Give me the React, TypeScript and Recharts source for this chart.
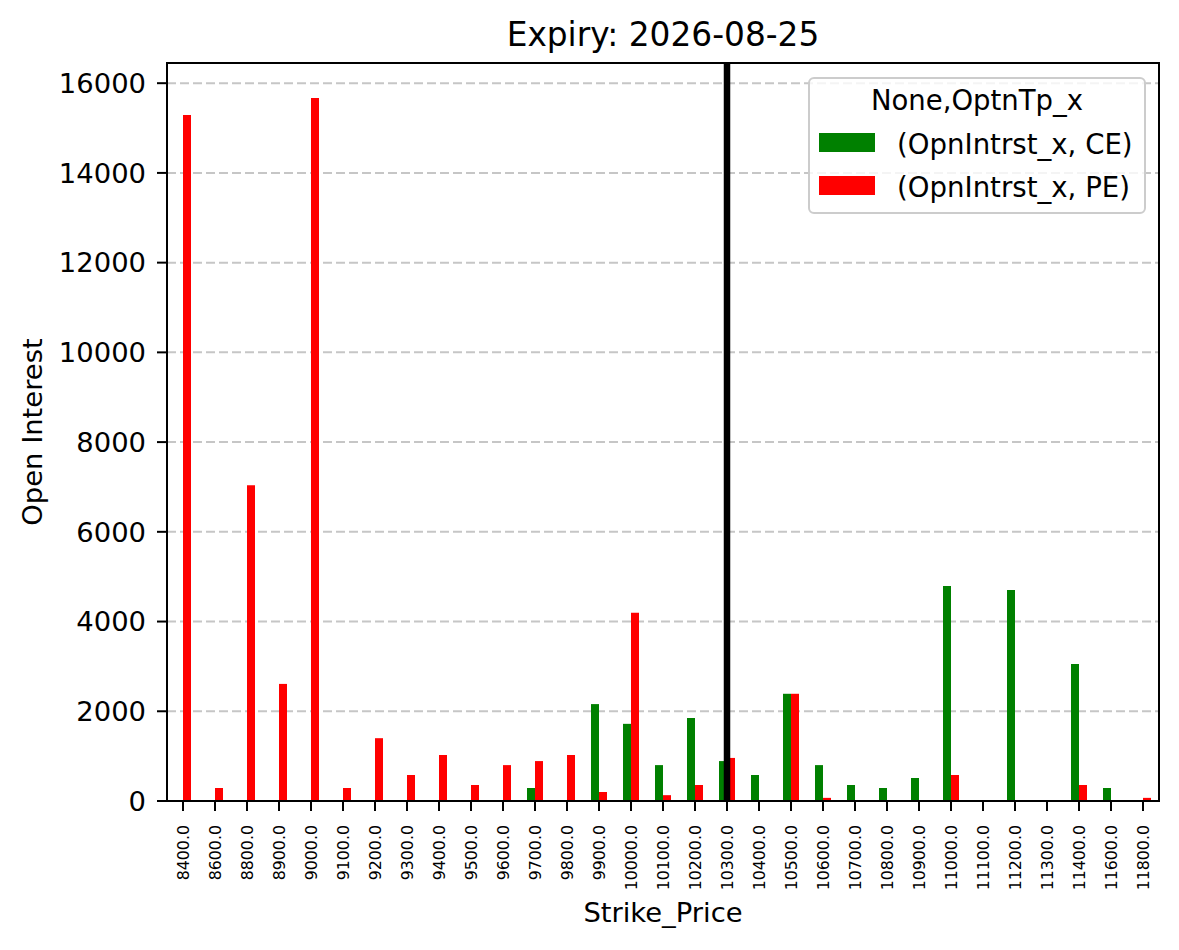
import {
  BarChart,
  Bar,
  XAxis,
  YAxis,
  CartesianGrid,
  ReferenceLine,
  ReferenceArea,
  Legend,
} from "recharts";

const strikes = [
  "8400.0", "8600.0", "8800.0", "8900.0", "9000.0", "9100.0", "9200.0", "9300.0",
  "9400.0", "9500.0", "9600.0", "9700.0", "9800.0", "9900.0", "10000.0", "10100.0",
  "10200.0", "10300.0", "10400.0", "10500.0", "10600.0", "10700.0", "10800.0",
  "10900.0", "11000.0", "11100.0", "11200.0", "11300.0", "11400.0", "11600.0", "11800.0",
];

const ceOI = [
  0, 0, 0, 0, 0, 0, 0, 0, 0, 0, 0, 290, 0, 2160, 1720, 800, 1850, 890, 580, 2390,
  800, 357, 290, 513, 4795, 0, 4705, 0, 3055, 290, 0,
];

const peOI = [
  15290, 290, 7040, 2610, 15670, 290, 1400, 580, 1025, 357, 800, 890, 1025, 200,
  4195, 130, 357, 960, 0, 2390, 70, 0, 0, 0, 580, 0, 0, 0, 357, 0, 70,
];

const yTicks = [0, 2000, 4000, 6000, 8000, 10000, 12000, 14000, 16000];
const spotStrike = "10300.0";

const data = strikes.map((s, i) => ({ strike: s, ce: ceOI[i], pe: peOI[i] }));

const FONT = "DejaVu Sans";

const XTick = ({ x, y, payload }: any) => (
  <text
    x={x}
    y={y}
    transform={`rotate(-90 ${x} ${y})`}
    textAnchor="end"
    dominantBaseline="central"
    fontSize={15.8}
    fontFamily={FONT}
    fill="#000"
  >
    {payload.value}
  </text>
);

const LegendBox = () => (
  <svg width={338} height={137} style={{ display: "block" }}>
    <rect
      x={1}
      y={1}
      width={336}
      height={135}
      rx={5}
      fill="#fff"
      fillOpacity={0.8}
      stroke="#cccccc"
      strokeWidth={2}
    />
    <text x={169} y={33} textAnchor="middle" fontSize={27.5} fontFamily={FONT}>
      None,OptnTp_x
    </text>
    <rect x={11} y={56} width={56} height={19} fill="#008000" />
    <text x={89} y={77} fontSize={27.6} fontFamily={FONT}>
      (OpnIntrst_x, CE)
    </text>
    <rect x={11} y={99} width={56} height={19} fill="#ff0000" />
    <text x={89} y={119.5} fontSize={27.6} fontFamily={FONT}>
      (OpnIntrst_x, PE)
    </text>
  </svg>
);

export default function App() {
  return (
    <div style={{ position: "relative", width: 1179, height: 950, margin: -8, background: "#fff" }}>
      <svg width={1179} height={60} style={{ position: "absolute", left: 0, top: 0 }}>
        <text x={663} y={45.5} textAnchor="middle" fontSize={32.8} fontFamily={FONT} fill="#000">
          Expiry: 2026-08-25
        </text>
      </svg>
      <BarChart
        width={1179}
        height={950}
        data={data}
        margin={{ top: 63, right: 20, bottom: 0, left: 0 }}
        barGap={0}
        style={{ position: "absolute", left: 0, top: 0 }}
      >
        <CartesianGrid
          vertical={false}
          stroke="#c6c6c6"
          strokeDasharray="9 4"
          strokeWidth={2}
        />
        <XAxis
          dataKey="strike"
          interval={0}
          height={149}
          tickSize={10}
          tickMargin={14}
          tick={<XTick />}
          axisLine={{ stroke: "#000", strokeWidth: 2 }}
          tickLine={{ stroke: "#000", strokeWidth: 2 }}
          label={{
            content: ({ viewBox }: any) => (
              <text
                x={viewBox.x + viewBox.width / 2}
                y={viewBox.y + 121}
                textAnchor="middle"
                fontSize={27.4}
                fontFamily={FONT}
                fill="#000"
              >
                Strike_Price
              </text>
            ),
          }}
        />
        <YAxis
          width={167}
          domain={[0, 16450]}
          ticks={yTicks}
          tickSize={10}
          tickMargin={11}
          tick={{ fontSize: 27.4, fontFamily: FONT, fill: "#000" }}
          axisLine={{ stroke: "#000", strokeWidth: 2 }}
          tickLine={{ stroke: "#000", strokeWidth: 2 }}
          label={{
            content: ({ viewBox }: any) => {
              const cx = viewBox.x + 32;
              const cy = viewBox.y + viewBox.height / 2;
              return (
                <text
                  x={cx}
                  y={cy}
                  transform={`rotate(-90 ${cx} ${cy})`}
                  textAnchor="middle"
                  dominantBaseline="central"
                  fontSize={27.4}
                  fontFamily={FONT}
                  fill="#000"
                >
                  Open Interest
                </text>
              );
            },
          }}
        />
        <Bar dataKey="ce" name="(OpnIntrst_x, CE)" fill="#008000" barSize={8} isAnimationActive={false} />
        <Bar dataKey="pe" name="(OpnIntrst_x, PE)" fill="#ff0000" barSize={8} isAnimationActive={false} />
        <ReferenceLine x={spotStrike} stroke="#000" strokeWidth={6.5} />
        <ReferenceArea y1={0} y2={16450} fill="none" stroke="#000" strokeWidth={2} />
        <Legend
          layout="horizontal"
          verticalAlign="middle"
          align="center"
          wrapperStyle={{ left: 808, top: 77, width: 338, height: 137 }}
          content={() => <LegendBox />}
        />
      </BarChart>
    </div>
  );
}
